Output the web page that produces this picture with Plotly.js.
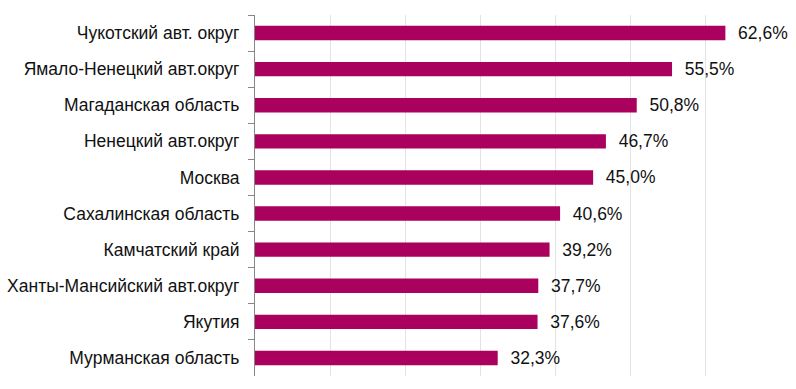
<!DOCTYPE html>
<html>
<head>
<meta charset="utf-8">
<script src="https://cdn.plot.ly/plotly-3.0.1.min.js"></script>
<style>html,body{margin:0;padding:0;background:#fff;}#chart{width:796px;height:389px;}</style>
</head>
<body>
<div id="chart"></div>
<script>
const regions = [
  "Чукотский авт. округ",
  "Ямало-Ненецкий авт.округ",
  "Магаданская область",
  "Ненецкий авт.округ",
  "Москва",
  "Сахалинская область",
  "Камчатский край",
  "Ханты-Мансийский авт.округ",
  "Якутия",
  "Мурманская область"
];
const shares = [62.6, 55.5, 50.8, 46.7, 45.0, 40.6, 39.2, 37.7, 37.6, 32.3];

const labels = shares.map(v => "\u00A0\u00A0" + v.toFixed(1).replace(".", ",") + "%");

const FONT = "Liberation Sans";

const trace = {
  type: "bar",
  orientation: "h",
  x: shares,
  y: regions,
  width: 0.4,
  marker: {color: "#AA005E"},
  text: labels,
  textposition: "outside",
  constraintext: "none",
  textfont: {family: FONT, size: 17.5, color: "#111111"},
  cliponaxis: false,
  hoverinfo: "none"
};

const layout = {
  width: 796,
  height: 389,
  margin: {l: 255, r: 15, t: 15, b: 13, pad: 0},
  paper_bgcolor: "#ffffff",
  plot_bgcolor: "#ffffff",
  showlegend: false,
  font: {family: FONT, size: 17.5, color: "#111111"},
  xaxis: {
    range: [0, 70],
    dtick: 10,
    showgrid: true,
    gridcolor: "#e3e3e3",
    gridwidth: 1,
    zeroline: false,
    showticklabels: false,
    showline: false,
    ticks: ""
  },
  yaxis: {
    type: "category",
    autorange: "reversed",
    showline: true,
    linecolor: "#868686",
    linewidth: 1,
    ticks: "outside",
    tickson: "boundaries",
    ticklen: 6,
    tickcolor: "#868686",
    ticklabelstandoff: 11,
    showgrid: false,
    zeroline: false,
    tickfont: {family: FONT, size: 17.5, color: "#111111"}
  }
};

Plotly.newPlot("chart", [trace], layout, {displayModeBar: false, staticPlot: true});
</script>
</body>
</html>
